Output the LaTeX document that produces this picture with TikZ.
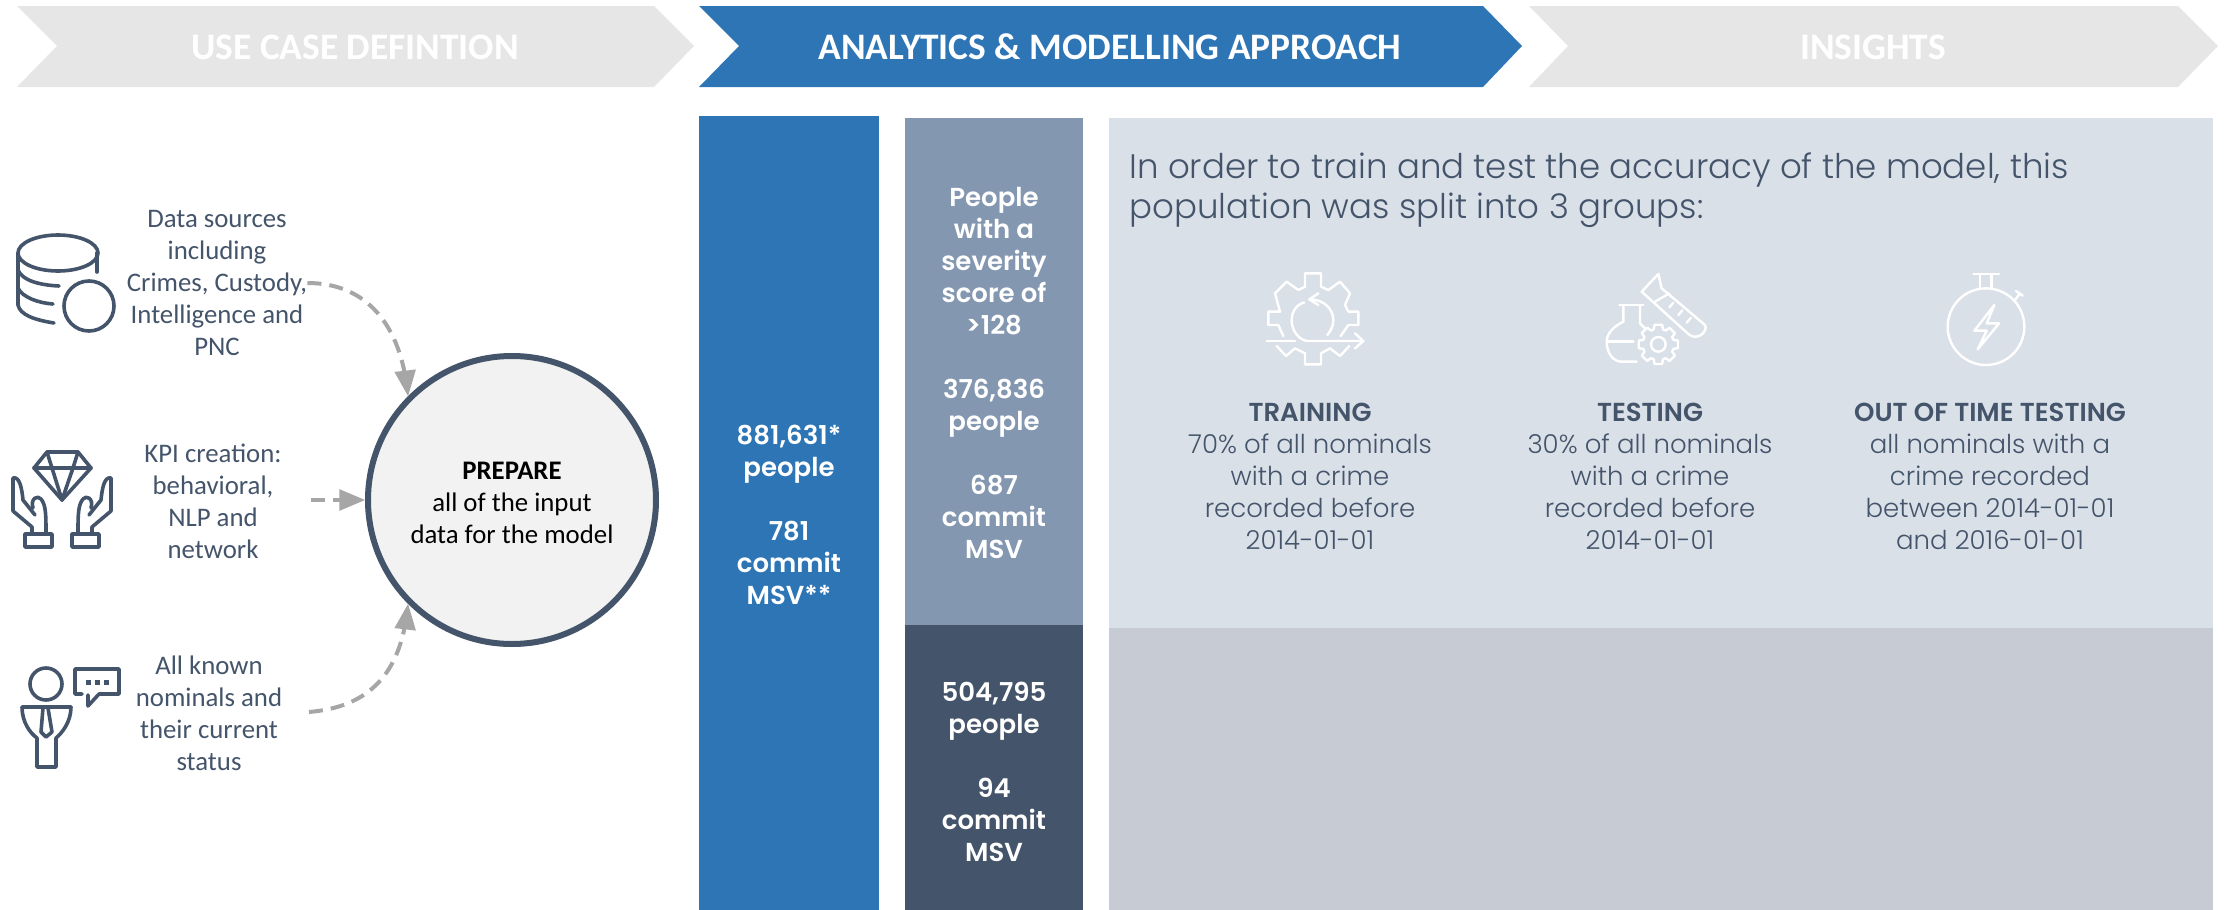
\documentclass[tikz,border=0pt]{standalone}
\usepackage{fontspec}
\setmainfont{Carlito}
\newfontfamily\gothicfont{Poppins Light}[BoldFont={Poppins SemiBold}]
\usetikzlibrary{arrows, shapes}

\definecolor{slatedark}{HTML}{44546A}
\definecolor{slatemid}{HTML}{8497B0}
\definecolor{slatelight}{HTML}{DAE0E8}
\definecolor{slategrey}{HTML}{C7CBD3}
\definecolor{stepblue}{HTML}{2E75B6}
\definecolor{stepgrey}{HTML}{E6E6E6}
\definecolor{linkgrey}{HTML}{A6A6A6}

\tikzset{
	steplabel/.style={text=white, inner sep=0pt, font=\fontsize{18.7}{20}\selectfont\bfseries},
	sourcelabel/.style={text=slatedark, inner sep=0pt, align=center, font=\fontsize{13.4}{16}\selectfont},
	countlabel/.style={text=white, inner sep=0pt, align=center, font=\fontsize{13}{16}\selectfont\gothicfont\bfseries},
	grouplabel/.style={text=slatedark, inner sep=0pt, align=center, font=\fontsize{13}{16}\selectfont\gothicfont},
	sourceicon/.style={draw=slatedark, line width=1.8pt, line cap=round, line join=round},
	groupicon/.style={draw=white, line width=1.2pt, line cap=round, line join=round},
	linkarrow/.style={draw=linkgrey, line width=2pt, dash pattern=on 7pt off 4pt, -triangle 45},
}

\begin{document}
\begin{tikzpicture}[x=0.5pt, y=-0.5pt]
	\useasboundingbox (0,0) rectangle (2224,910);
	\fill[stepgrey] (17,6) -- (654,6) -- (694,46) -- (654,87) -- (17,87) -- (57,46) -- cycle;
	\fill[stepblue] (699,6) -- (1483,6) -- (1522,46) -- (1483,87) -- (699,87) -- (739,46) -- cycle;
	\fill[stepgrey] (1529,6) -- (2178,6) -- (2218,46) -- (2178,87) -- (1529,87) -- (1568,46) -- cycle;
	\node[steplabel] (usecase) at (355,47) {USE CASE DEFINTION};
	\node[steplabel] (analytics) at (1110,47) {ANALYTICS \& MODELLING APPROACH};
	\node[steplabel] (insights) at (1873,47) {INSIGHTS};

	\fill[stepblue] (699,116) rectangle (879,910);
	\fill[slatemid] (905,118) rectangle (1083,625);
	\fill[slatedark] (905,625) rectangle (1083,910);
	\fill[slatelight] (1109,118) rectangle (2213,628);
	\fill[slategrey] (1109,628) rectangle (2213,910);

	\node[countlabel] (total) at (789,515) {881,631*\\people\\[16pt]781\\commit\\MSV**};
	\node[countlabel] (severe) at (994,373) {People\\with a\\severity\\score of\\>128\\[16pt]376,836\\people\\[16pt]687\\commit\\MSV};
	\node[countlabel] (rest) at (994,772) {504,795\\people\\[16pt]94\\commit\\MSV};

	\node[grouplabel, anchor=west, align=left, font=\fontsize{17}{20}\selectfont\gothicfont] (split) at (1129,190) {In order to train and test the accuracy of the model, this\\population was split into 3 groups:};
	\node[grouplabel] (training) at (1310,476) {\textbf{TRAINING}\\70\% of all nominals\\with a crime\\recorded before\\2014-01-01};
	\node[grouplabel] (testing) at (1650,476) {\textbf{TESTING}\\30\% of all nominals\\with a crime\\recorded before\\2014-01-01};
	\node[grouplabel] (outoftime) at (1990,476) {\textbf{OUT OF TIME TESTING}\\all nominals with a\\crime recorded\\between 2014-01-01\\and 2016-01-01};

	\node[sourcelabel] (sources) at (217,283) {Data sources\\including\\Crimes, Custody,\\Intelligence and\\PNC};
	\node[sourcelabel] (kpi) at (213,501) {KPI creation:\\behavioral,\\NLP and\\network};
	\node[sourcelabel] (known) at (209,713) {All known\\nominals and\\their current\\status};
	\node[circle, draw=slatedark, line width=3pt, fill=black!5, minimum size=144pt, inner sep=0pt] (prepare) at (512,500) {};
	\node[inner sep=0pt, align=center, font=\fontsize{13.4}{16}\selectfont] (preparetext) at (512,503) {\textbf{PREPARE}\\all of the input\\data for the model};

	\coordinate (kpiout) at (311,500);
	\coordinate (knownout) at (309,712);
	\draw[linkarrow] (sources.east) .. controls +(60,0) and +(-8,-70) .. (prepare.135);
	\draw[linkarrow] (kpiout) -- (prepare.west);
	\draw[linkarrow] (knownout) .. controls +(60,-5) and +(-8,70) .. (prepare.225);

	\draw[sourceicon] (58,253) ellipse (40 and 18);
	\draw[sourceicon] (97,253) -- (97,272);
	\draw[sourceicon] (18,253) -- (18,305) .. controls (20,315) and (35,320) .. (54,323);
	\draw[sourceicon] (18,270) .. controls (22,280) and (38,285) .. (59,286);
	\draw[sourceicon] (18,288) .. controls (22,297) and (38,303) .. (53,304);
	\draw[sourceicon] (89,306) circle (25);

	\draw[sourceicon] (47,452) -- (78,452) -- (91,468) -- (62,500) -- (34,468) -- cycle;
	\draw[sourceicon] (34,468) -- (91,468);
	\draw[sourceicon] (47,452) -- (52,468) -- (62,500) -- (73,468) -- (78,452);
	\foreach \hand/\side in {0/1, 124/-1} {
		\begin{scope}[shift={(\hand,0)}, xscale=\side]
			\draw[sourceicon] (25,534) rectangle (52,547);
			\draw[sourceicon] (32,534) -- (32,527) -- (13,511) -- (13,478) .. controls (20,476) and (22,490) .. (23,500) -- (35,515);
			\draw[sourceicon] (33,508) .. controls (30,498) and (38,495) .. (41,499) .. controls (46,505) and (46,515) .. (46,534);
		\end{scope}
	}

	\draw[sourceicon] (46,684) circle (16);
	\draw[sourceicon] (22,707) -- (71,707) .. controls (71,722) and (62,733) .. (56,738) -- (56,767) -- (37,767) -- (37,738) .. controls (30,733) and (22,722) .. (22,707);
	\draw[sourceicon] (43,708) -- (41,732) -- (46,737) -- (52,732) -- (48,708);
	\draw[sourceicon] (82,694) -- (75,694) -- (75,669) -- (119,669) -- (119,694) -- (99,694) -- (88,706) -- (88,695);
	\foreach \dotx in {88,97,106} {
		\fill[slatedark] (\dotx-2.5,679.5) rectangle (\dotx+2.5,684.5);
	}

	\begin{scope}[shift={(1250,260)}, x=0.1667pt, y=-0.1667pt]
		\draw[groupicon] (100,228) -- (85,195) -- (55,195) -- (55,155) -- (90,155) -- (75,100) -- (110,65) -- (145,90) -- (165,80) -- (165,40) -- (213,40) -- (213,80) -- (235,90) -- (270,65) -- (300,100) -- (285,135) -- (295,155) -- (325,155) -- (325,195) -- (295,195) -- (272,228);
		\draw[groupicon] (80,258) -- (108,288) -- (135,265) -- (165,280) -- (165,313) -- (213,313) -- (213,280) -- (240,265) -- (270,288) -- (298,258);
		\draw[groupicon] (163,127) .. controls (135,135) and (125,160) .. (125,180) .. controls (125,215) and (150,243) .. (175,243) -- (340,243);
		\draw[groupicon] (50,243) -- (135,243);
		\draw[groupicon] (315,220) -- (340,243) -- (315,265);
		\draw[groupicon] (205,100) -- (178,118) -- (205,135);
		\draw[groupicon] (178,118) .. controls (225,118) and (250,150) .. (250,180) .. controls (250,200) and (240,215) .. (232,225);
	\end{scope}

	\begin{scope}[shift={(1590,260)}, x=0.1667pt, y=-0.1667pt]
		\draw[groupicon] (155,95) -- (205,42) -- (215,85) -- (345,195) .. controls (355,215) and (320,245) .. (295,222) -- cycle;
		\draw[groupicon] (195,125) -- (238,100);
		\draw[groupicon] (238,142) -- (250,128);
		\draw[groupicon] (265,165) -- (277,151);
		\draw[groupicon] (290,188) -- (302,174);
		\draw[groupicon] (88,135) -- (160,135);
		\draw[groupicon] (100,135) -- (100,185) .. controls (70,200) and (50,220) .. (50,245) .. controls (50,280) and (70,305) .. (95,305) -- (140,305);
		\draw[groupicon] (150,135) -- (150,190) -- (165,205);
		\draw[groupicon] (55,245) -- (130,245);
		\draw[groupicon, shift={(205,253)}] (-11:60) foreach \a in {0,45,...,315} {-- ({\a-11}:60) -- ({\a+11}:60) -- ({\a+17}:47) -- ({\a+28}:47)} -- cycle;
		\draw[groupicon] (205,253) circle (22);
	\end{scope}

	\begin{scope}[shift={(1925,260)}, x=0.1667pt, y=-0.1667pt]
		\draw[groupicon] (183,200) circle (115);
		\draw[groupicon] (145,42) -- (222,42);
		\draw[groupicon] (165,42) -- (165,85);
		\draw[groupicon] (200,42) -- (200,85);
		\draw[groupicon] (270,120) -- (283,102);
		\draw[groupicon] (273,93) -- (293,107);
		\draw[groupicon] (208,135) -- (148,212) -- (185,212) -- (158,268) -- (222,190) -- (185,190) -- cycle;
	\end{scope}
\end{tikzpicture}
\end{document}
